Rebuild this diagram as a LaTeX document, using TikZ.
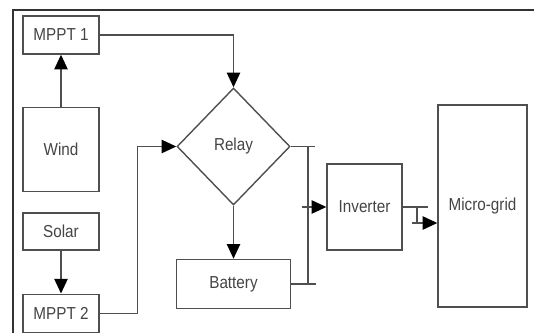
\documentclass[tikz,border=0pt]{standalone}
\usepackage{fontspec}
\setmainfont{Liberation Sans}[FakeStretch=0.88]
\usepackage{tikz}
\usetikzlibrary{arrows.meta,positioning,shapes.geometric}
\definecolor{linegray}{HTML}{4F4F4F}
\definecolor{framegray}{HTML}{333333}
\definecolor{textgray}{HTML}{444444}

\begin{document}
\begin{tikzpicture}[
  x=0.75pt, y=-0.75pt,
  block/.style={draw=linegray, line width=1.05pt, inner sep=0pt, minimum width=57pt,
                font=\fontsize{13pt}{15pt}\selectfont, text=textgray, align=center},
  relaynode/.style={block, diamond, minimum width=84.75pt, minimum height=87.75pt},
  wire/.style={draw=linegray, line width=1.05pt},
  arrow/.style={wire, -{Triangle[length=11pt,width=10pt,black]}},
]
  \useasboundingbox (0,0) rectangle (534,333);

  % Sources (left column)
  \node[block, minimum height=28.5pt] (mppt1) at (61,35) {MPPT 1};
  \node[block, minimum height=63pt, below=39pt of mppt1] (wind) {Wind};
  \node[block, minimum height=27.75pt, below=15pt of wind] (solar) {Solar};
  \node[block, minimum height=28.5pt, below=32.25pt of solar] (mppt2) {MPPT 2};

  % Relay and storage (middle)
  \node[relaynode] (relay) at (233.5,146.5) {Relay};
  \node[block, minimum width=85.5pt, minimum height=36.75pt, below=39.75pt of relay] (battery) {Battery};

  % Output side (right)
  \node[block, minimum width=56.25pt, minimum height=64.5pt] (inverter) at (364.5,207) {Inverter};
  \node[block, minimum width=66.75pt, minimum height=151.5pt] (grid) at (482.5,206) {Micro-grid};

  % Edges: sources to relay
  \draw[arrow] (wind) -- (mppt1);
  \draw[arrow] (mppt1.east) -| (relay.north);
  \draw[arrow] (solar) -- (mppt2);
  \draw[arrow] (mppt2.east) -- ++(38,0) |- (relay.west);
  \draw[arrow] (relay.south) -- (relay.south |- battery.north);

  % DC bus
  \coordinate (bus) at (308,0);
  \coordinate (busin) at (302,207);
  \draw[wire] (relay.east) -- ++(24,0);
  \draw[wire] (battery.east) -- ++(25,0);
  \draw[wire] (relay.east -| bus) -- (battery.east -| bus);
  \draw[arrow] (busin) -- (inverter.west);

  % AC side
  \coordinate (tap) at (417,223);
  \draw[wire] (inverter.east) -- ++(25,0);
  \draw[wire] (inverter.east -| tap) -- (tap);
  \draw[arrow] ([xshift=-3.75pt]tap) -- (tap -| grid.west);

  % Frame
  \draw[framegray, line width=1.6pt] (13,333) -- (13,10) -- (534,10);
\end{tikzpicture}
\end{document}
